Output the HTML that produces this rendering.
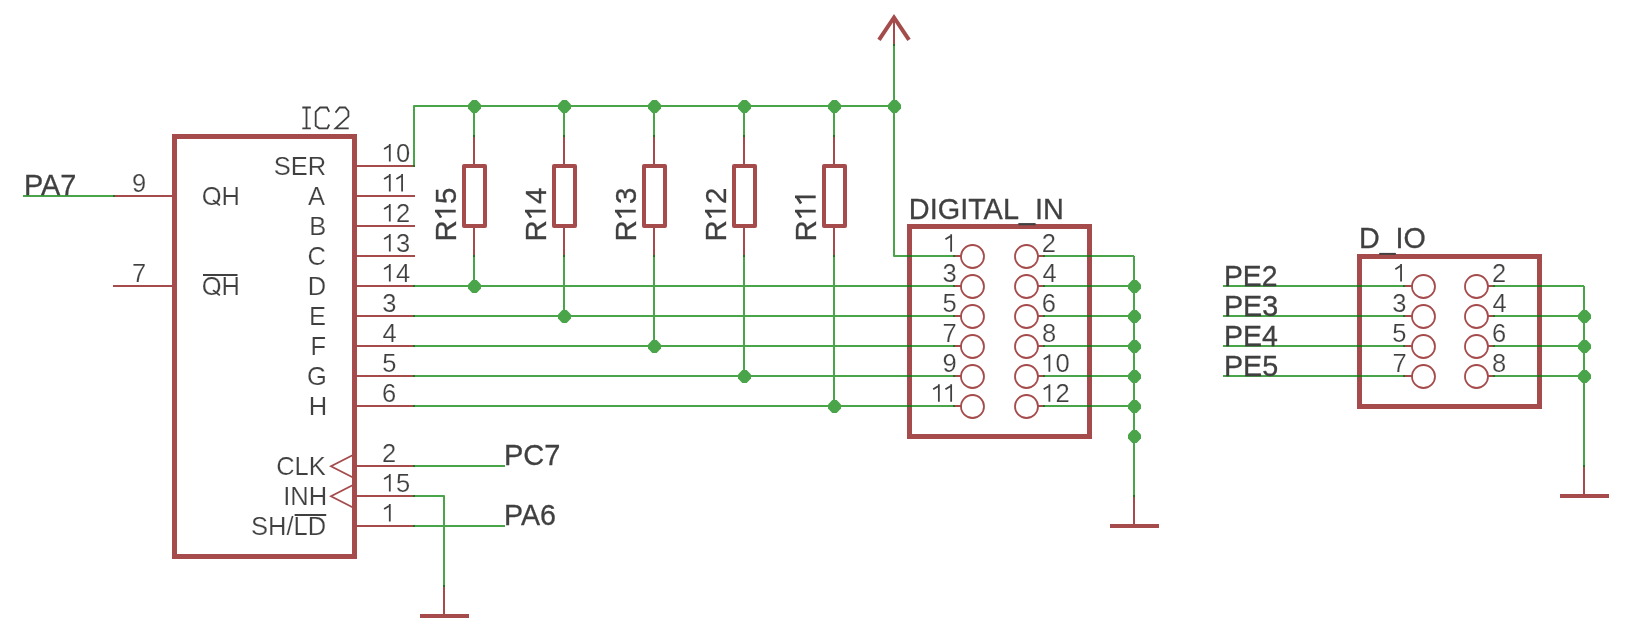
<!DOCTYPE html>
<html><head><meta charset="utf-8"><style>
html,body{margin:0;padding:0;background:#fff;}
svg{display:block;}
svg{will-change:transform;}
text{font-family:"Liberation Sans",sans-serif;fill:#404040;}
</style></head><body>
<svg width="1630" height="637" viewBox="0 0 1630 637">
<rect width="1630" height="637" fill="#fff"/>
<rect x="174.5" y="136.5" width="180" height="420" fill="none" stroke="#a54b4b" stroke-width="5" stroke-linejoin="miter"/>
<line x1="354.5" y1="166" x2="415" y2="166" stroke="#a54b4b" stroke-width="2"/>
<line x1="354.5" y1="196" x2="415" y2="196" stroke="#a54b4b" stroke-width="2"/>
<line x1="354.5" y1="226" x2="415" y2="226" stroke="#a54b4b" stroke-width="2"/>
<line x1="354.5" y1="256" x2="415" y2="256" stroke="#a54b4b" stroke-width="2"/>
<line x1="354.5" y1="286" x2="415" y2="286" stroke="#a54b4b" stroke-width="2"/>
<line x1="354.5" y1="316" x2="415" y2="316" stroke="#a54b4b" stroke-width="2"/>
<line x1="354.5" y1="346" x2="415" y2="346" stroke="#a54b4b" stroke-width="2"/>
<line x1="354.5" y1="376" x2="415" y2="376" stroke="#a54b4b" stroke-width="2"/>
<line x1="354.5" y1="406" x2="415" y2="406" stroke="#a54b4b" stroke-width="2"/>
<line x1="354.5" y1="466" x2="415" y2="466" stroke="#a54b4b" stroke-width="2"/>
<line x1="354.5" y1="496" x2="415" y2="496" stroke="#a54b4b" stroke-width="2"/>
<line x1="354.5" y1="526" x2="415" y2="526" stroke="#a54b4b" stroke-width="2"/>
<line x1="113" y1="196" x2="174.5" y2="196" stroke="#a54b4b" stroke-width="2"/>
<line x1="113" y1="286" x2="174.5" y2="286" stroke="#a54b4b" stroke-width="2"/>
<polyline points="352.5,455.2 331,466.3 352.5,477.3" fill="none" stroke="#a54b4b" stroke-width="1.8" stroke-linejoin="miter"/>
<polyline points="352.5,485.2 331,496.3 352.5,507.3" fill="none" stroke="#a54b4b" stroke-width="1.8" stroke-linejoin="miter"/>
<g transform="translate(273.75,174.5) scale(1.0,1.0)"><text x="0 17.01 34.02" y="0" font-size="25.5" stroke="#fff" stroke-width="0.2" xml:space="preserve">SER</text></g>
<g transform="translate(308.04,204.5) scale(1.0,1.0)"><text x="0" y="0" font-size="25.5" stroke="#fff" stroke-width="0.2" xml:space="preserve">A</text></g>
<g transform="translate(309.34,234.5) scale(1.0,1.0)"><text x="0" y="0" font-size="25.5" stroke="#fff" stroke-width="0.2" xml:space="preserve">B</text></g>
<g transform="translate(307.56,264.5) scale(1.0,1.0)"><text x="0" y="0" font-size="25.5" stroke="#fff" stroke-width="0.2" xml:space="preserve">C</text></g>
<g transform="translate(307.8,294.5) scale(1.0,1.0)"><text x="0" y="0" font-size="25.5" stroke="#fff" stroke-width="0.2" xml:space="preserve">D</text></g>
<g transform="translate(309.09,324.5) scale(1.0,1.0)"><text x="0" y="0" font-size="25.5" stroke="#fff" stroke-width="0.2" xml:space="preserve">E</text></g>
<g transform="translate(310.44,354.5) scale(1.0,1.0)"><text x="0" y="0" font-size="25.5" stroke="#fff" stroke-width="0.2" xml:space="preserve">F</text></g>
<g transform="translate(307.07,384.5) scale(1.0,1.0)"><text x="0" y="0" font-size="25.5" stroke="#fff" stroke-width="0.2" xml:space="preserve">G</text></g>
<g transform="translate(308.66,414.5) scale(1.0,1.0)"><text x="0" y="0" font-size="25.5" stroke="#fff" stroke-width="0.2" xml:space="preserve">H</text></g>
<g transform="translate(276.18,474.5) scale(1.0,1.0)"><text x="0 18.42 32.6" y="0" font-size="25.5" stroke="#fff" stroke-width="0.2" xml:space="preserve">CLK</text></g>
<g transform="translate(283.16,504.5) scale(1.0,1.0)"><text x="0 7.08 25.5" y="0" font-size="25.5" stroke="#fff" stroke-width="0.2" xml:space="preserve">INH</text></g>
<g transform="translate(251.11,534.5) scale(1.0,1.0)"><text x="0 17.01 35.42 42.51 56.69" y="0" font-size="25.5" stroke="#fff" stroke-width="0.2" xml:space="preserve">SH/LD</text></g>
<line x1="294.6" y1="515" x2="326.2" y2="515" stroke="#404040" stroke-width="1.8"/>
<g transform="translate(201.79,204.5) scale(1.0,1.0)"><text x="0 19.83" y="0" font-size="25.5" stroke="#fff" stroke-width="0.2" xml:space="preserve">OH</text><path d="M11.21,-4.36L18.05,0.87" stroke="#404040" stroke-width="1.8" fill="none"/></g>
<g transform="translate(201.79,294.5) scale(1.0,1.0)"><text x="0 19.83" y="0" font-size="25.5" stroke="#fff" stroke-width="0.2" xml:space="preserve">OH</text><path d="M11.21,-4.36L18.05,0.87" stroke="#404040" stroke-width="1.8" fill="none"/></g>
<line x1="203" y1="275" x2="237.5" y2="275" stroke="#404040" stroke-width="1.8"/>
<g transform="translate(381.8,161.5) scale(1.0,1.0)"><text x="0 14.18" y="0" font-size="25.5" stroke="#fff" stroke-width="0.2" xml:space="preserve"> 0</text><path d="M7.99,-17.54V0 M7.22,-15.56L2.3,-12.44" stroke="#404040" stroke-width="1.8" fill="none"/></g>
<g transform="translate(381.8,191.5) scale(1.0,1.0)"><text x="0 12.29" y="0" font-size="25.5" stroke="#fff" stroke-width="0.2" xml:space="preserve">  </text><path d="M7.99,-17.54V0 M7.22,-15.56L2.3,-12.44" stroke="#404040" stroke-width="1.8" fill="none"/><path d="M20.28,-17.54V0 M19.51,-15.56L14.59,-12.44" stroke="#404040" stroke-width="1.8" fill="none"/></g>
<g transform="translate(381.8,221.5) scale(1.0,1.0)"><text x="0 14.18" y="0" font-size="25.5" stroke="#fff" stroke-width="0.2" xml:space="preserve"> 2</text><path d="M7.99,-17.54V0 M7.22,-15.56L2.3,-12.44" stroke="#404040" stroke-width="1.8" fill="none"/></g>
<g transform="translate(381.8,251.5) scale(1.0,1.0)"><text x="0 14.18" y="0" font-size="25.5" stroke="#fff" stroke-width="0.2" xml:space="preserve"> 3</text><path d="M7.99,-17.54V0 M7.22,-15.56L2.3,-12.44" stroke="#404040" stroke-width="1.8" fill="none"/></g>
<g transform="translate(381.8,281.5) scale(1.0,1.0)"><text x="0 14.18" y="0" font-size="25.5" stroke="#fff" stroke-width="0.2" xml:space="preserve"> 4</text><path d="M7.99,-17.54V0 M7.22,-15.56L2.3,-12.44" stroke="#404040" stroke-width="1.8" fill="none"/></g>
<g transform="translate(382.23,311.5) scale(1.0,1.0)"><text x="0" y="0" font-size="25.5" stroke="#fff" stroke-width="0.2" xml:space="preserve">3</text></g>
<g transform="translate(382.61,341.5) scale(1.0,1.0)"><text x="0" y="0" font-size="25.5" stroke="#fff" stroke-width="0.2" xml:space="preserve">4</text></g>
<g transform="translate(382.18,371.5) scale(1.0,1.0)"><text x="0" y="0" font-size="25.5" stroke="#fff" stroke-width="0.2" xml:space="preserve">5</text></g>
<g transform="translate(381.91,401.5) scale(1.0,1.0)"><text x="0" y="0" font-size="25.5" stroke="#fff" stroke-width="0.2" xml:space="preserve">6</text></g>
<g transform="translate(381.92,461.5) scale(1.0,1.0)"><text x="0" y="0" font-size="25.5" stroke="#fff" stroke-width="0.2" xml:space="preserve">2</text></g>
<g transform="translate(381.8,491.5) scale(1.0,1.0)"><text x="0 14.18" y="0" font-size="25.5" stroke="#fff" stroke-width="0.2" xml:space="preserve"> 5</text><path d="M7.99,-17.54V0 M7.22,-15.56L2.3,-12.44" stroke="#404040" stroke-width="1.8" fill="none"/></g>
<g transform="translate(381.8,521.5) scale(1.0,1.0)"><text x="0" y="0" font-size="25.5" stroke="#fff" stroke-width="0.2" xml:space="preserve"> </text><path d="M7.99,-17.54V0 M7.22,-15.56L2.3,-12.44" stroke="#404040" stroke-width="1.8" fill="none"/></g>
<g transform="translate(132.03,191.5) scale(1.0,1.0)"><text x="0" y="0" font-size="25.5" stroke="#fff" stroke-width="0.2" xml:space="preserve">9</text></g>
<g transform="translate(132.1,281.5) scale(1.0,1.0)"><text x="0" y="0" font-size="25.5" stroke="#fff" stroke-width="0.2" xml:space="preserve">7</text></g>
<path d="M302.3,107.5 H310.8 M306.5,107.5 V128.3 M302.3,128.3 H310.8 M329.2,111.9 L327,107.5 H320.1 L315.7,111.9 V125.7 L319.2,128.3 H327.4 L329.2,124.5 M335.5,112.6 L339.6,107.5 H345.3 L348.4,111.3 V116.3 L335.5,128.3 H348.7" fill="none" stroke="#404040" stroke-width="1.8"/>
<line x1="23" y1="196" x2="115" y2="196" stroke="#4aa44a" stroke-width="2"/>
<g transform="translate(23.93,195.2) scale(0.9785363168036494,1.02)"><text x="0 17.49 37.16" y="0" font-size="29.5" stroke="#404040" stroke-width="0.3" xml:space="preserve">PA7</text></g>
<polyline points="414,167 414,106 894,106" fill="none" stroke="#4aa44a" stroke-width="2" stroke-linejoin="round"/>
<line x1="413" y1="286" x2="955" y2="286" stroke="#4aa44a" stroke-width="2"/>
<line x1="413" y1="316" x2="955" y2="316" stroke="#4aa44a" stroke-width="2"/>
<line x1="413" y1="346" x2="955" y2="346" stroke="#4aa44a" stroke-width="2"/>
<line x1="413" y1="376" x2="955" y2="376" stroke="#4aa44a" stroke-width="2"/>
<line x1="413" y1="406" x2="955" y2="406" stroke="#4aa44a" stroke-width="2"/>
<line x1="413" y1="466" x2="505" y2="466" stroke="#4aa44a" stroke-width="2"/>
<line x1="413" y1="526" x2="505" y2="526" stroke="#4aa44a" stroke-width="2"/>
<g transform="translate(503.92,465.3) scale(0.9834872436286616,1.02)"><text x="0 19.68 40.98" y="0" font-size="29.5" stroke="#404040" stroke-width="0.3" xml:space="preserve">PC7</text></g>
<g transform="translate(503.95,525.3) scale(0.9708490247258801,1.02)"><text x="0 17.49 37.16" y="0" font-size="29.5" stroke="#404040" stroke-width="0.3" xml:space="preserve">PA6</text></g>
<polyline points="413,496 444,496 444,587" fill="none" stroke="#4aa44a" stroke-width="2" stroke-linejoin="round"/>
<line x1="444" y1="585" x2="444" y2="614" stroke="#a54b4b" stroke-width="2"/>
<line x1="420" y1="616" x2="469" y2="616" stroke="#a54b4b" stroke-width="4"/>
<line x1="474" y1="106" x2="474" y2="137" stroke="#4aa44a" stroke-width="2"/>
<line x1="474" y1="135" x2="474" y2="166" stroke="#a54b4b" stroke-width="2"/>
<rect x="464" y="166" width="21" height="60" fill="none" stroke="#a54b4b" stroke-width="4" stroke-linejoin="round"/>
<line x1="474" y1="226" x2="474" y2="257" stroke="#a54b4b" stroke-width="2"/>
<line x1="474" y1="255" x2="474" y2="286" stroke="#4aa44a" stroke-width="2"/>
<g transform="translate(455.7,241.62) rotate(-90) scale(1.0,1.02)"><text x="0 21.3 37.71" y="0" font-size="29.5" stroke="#404040" stroke-width="0.3" xml:space="preserve">R 5</text><path d="M30.55,-20.3V0 M29.66,-18.01L23.97,-14.39" stroke="#404040" stroke-width="2.7" fill="none"/></g>
<line x1="564" y1="106" x2="564" y2="137" stroke="#4aa44a" stroke-width="2"/>
<line x1="564" y1="135" x2="564" y2="166" stroke="#a54b4b" stroke-width="2"/>
<rect x="554" y="166" width="21" height="60" fill="none" stroke="#a54b4b" stroke-width="4" stroke-linejoin="round"/>
<line x1="564" y1="226" x2="564" y2="257" stroke="#a54b4b" stroke-width="2"/>
<line x1="564" y1="255" x2="564" y2="316" stroke="#4aa44a" stroke-width="2"/>
<g transform="translate(545.7,241.62) rotate(-90) scale(1.0,1.02)"><text x="0 21.3 37.71" y="0" font-size="29.5" stroke="#404040" stroke-width="0.3" xml:space="preserve">R 4</text><path d="M30.55,-20.3V0 M29.66,-18.01L23.97,-14.39" stroke="#404040" stroke-width="2.7" fill="none"/></g>
<line x1="654" y1="106" x2="654" y2="137" stroke="#4aa44a" stroke-width="2"/>
<line x1="654" y1="135" x2="654" y2="166" stroke="#a54b4b" stroke-width="2"/>
<rect x="644" y="166" width="21" height="60" fill="none" stroke="#a54b4b" stroke-width="4" stroke-linejoin="round"/>
<line x1="654" y1="226" x2="654" y2="257" stroke="#a54b4b" stroke-width="2"/>
<line x1="654" y1="255" x2="654" y2="346" stroke="#4aa44a" stroke-width="2"/>
<g transform="translate(635.7,241.62) rotate(-90) scale(1.0,1.02)"><text x="0 21.3 37.71" y="0" font-size="29.5" stroke="#404040" stroke-width="0.3" xml:space="preserve">R 3</text><path d="M30.55,-20.3V0 M29.66,-18.01L23.97,-14.39" stroke="#404040" stroke-width="2.7" fill="none"/></g>
<line x1="744" y1="106" x2="744" y2="137" stroke="#4aa44a" stroke-width="2"/>
<line x1="744" y1="135" x2="744" y2="166" stroke="#a54b4b" stroke-width="2"/>
<rect x="734" y="166" width="21" height="60" fill="none" stroke="#a54b4b" stroke-width="4" stroke-linejoin="round"/>
<line x1="744" y1="226" x2="744" y2="257" stroke="#a54b4b" stroke-width="2"/>
<line x1="744" y1="255" x2="744" y2="376" stroke="#4aa44a" stroke-width="2"/>
<g transform="translate(725.7,241.62) rotate(-90) scale(1.0,1.02)"><text x="0 21.3 37.71" y="0" font-size="29.5" stroke="#404040" stroke-width="0.3" xml:space="preserve">R 2</text><path d="M30.55,-20.3V0 M29.66,-18.01L23.97,-14.39" stroke="#404040" stroke-width="2.7" fill="none"/></g>
<line x1="834" y1="106" x2="834" y2="137" stroke="#4aa44a" stroke-width="2"/>
<line x1="834" y1="135" x2="834" y2="166" stroke="#a54b4b" stroke-width="2"/>
<rect x="824" y="166" width="21" height="60" fill="none" stroke="#a54b4b" stroke-width="4" stroke-linejoin="round"/>
<line x1="834" y1="226" x2="834" y2="257" stroke="#a54b4b" stroke-width="2"/>
<line x1="834" y1="255" x2="834" y2="406" stroke="#4aa44a" stroke-width="2"/>
<g transform="translate(815.7,241.62) rotate(-90) scale(1.0,1.02)"><text x="0 21.3 35.52" y="0" font-size="29.5" stroke="#404040" stroke-width="0.3" xml:space="preserve">R  </text><path d="M30.55,-20.3V0 M29.66,-18.01L23.97,-14.39" stroke="#404040" stroke-width="2.7" fill="none"/><path d="M44.77,-20.3V0 M43.88,-18.01L38.19,-14.39" stroke="#404040" stroke-width="2.7" fill="none"/></g>
<line x1="894" y1="46" x2="894" y2="17.5" stroke="#a54b4b" stroke-width="2"/>
<polyline points="879,39.8 894,17.5 909,39.8" fill="none" stroke="#a54b4b" stroke-width="4" stroke-linejoin="miter"/>
<polyline points="894,44 894,256 955,256" fill="none" stroke="#4aa44a" stroke-width="2" stroke-linejoin="round"/>
<rect x="909.5" y="226.5" width="180" height="210" fill="none" stroke="#a54b4b" stroke-width="5" stroke-linejoin="miter"/>
<circle cx="972.5" cy="256.5" r="11.5" fill="none" stroke="#a54b4b" stroke-width="1.8"/>
<circle cx="1026.5" cy="256.5" r="11.5" fill="none" stroke="#a54b4b" stroke-width="1.8"/>
<line x1="953" y1="256" x2="961.5" y2="256" stroke="#a54b4b" stroke-width="2"/>
<line x1="1037.5" y1="256" x2="1045" y2="256" stroke="#a54b4b" stroke-width="2"/>
<line x1="1043" y1="256" x2="1134" y2="256" stroke="#4aa44a" stroke-width="2"/>
<g transform="translate(943.16,251.7) scale(1.0,1.0)"><text x="0" y="0" font-size="25.5" stroke="#fff" stroke-width="0.2" xml:space="preserve"> </text><path d="M7.99,-17.54V0 M7.22,-15.56L2.3,-12.44" stroke="#404040" stroke-width="1.8" fill="none"/></g>
<g transform="translate(1041.82,251.7) scale(1.0,1.0)"><text x="0" y="0" font-size="25.5" stroke="#fff" stroke-width="0.2" xml:space="preserve">2</text></g>
<circle cx="972.5" cy="286.5" r="11.5" fill="none" stroke="#a54b4b" stroke-width="1.8"/>
<circle cx="1026.5" cy="286.5" r="11.5" fill="none" stroke="#a54b4b" stroke-width="1.8"/>
<line x1="953" y1="286" x2="961.5" y2="286" stroke="#a54b4b" stroke-width="2"/>
<line x1="1037.5" y1="286" x2="1045" y2="286" stroke="#a54b4b" stroke-width="2"/>
<line x1="1043" y1="286" x2="1134" y2="286" stroke="#4aa44a" stroke-width="2"/>
<g transform="translate(942.44,281.7) scale(1.0,1.0)"><text x="0" y="0" font-size="25.5" stroke="#fff" stroke-width="0.2" xml:space="preserve">3</text></g>
<g transform="translate(1042.51,281.7) scale(1.0,1.0)"><text x="0" y="0" font-size="25.5" stroke="#fff" stroke-width="0.2" xml:space="preserve">4</text></g>
<circle cx="972.5" cy="316.5" r="11.5" fill="none" stroke="#a54b4b" stroke-width="1.8"/>
<circle cx="1026.5" cy="316.5" r="11.5" fill="none" stroke="#a54b4b" stroke-width="1.8"/>
<line x1="953" y1="316" x2="961.5" y2="316" stroke="#a54b4b" stroke-width="2"/>
<line x1="1037.5" y1="316" x2="1045" y2="316" stroke="#a54b4b" stroke-width="2"/>
<line x1="1043" y1="316" x2="1134" y2="316" stroke="#4aa44a" stroke-width="2"/>
<g transform="translate(942.39,311.7) scale(1.0,1.0)"><text x="0" y="0" font-size="25.5" stroke="#fff" stroke-width="0.2" xml:space="preserve">5</text></g>
<g transform="translate(1041.81,311.7) scale(1.0,1.0)"><text x="0" y="0" font-size="25.5" stroke="#fff" stroke-width="0.2" xml:space="preserve">6</text></g>
<circle cx="972.5" cy="346.5" r="11.5" fill="none" stroke="#a54b4b" stroke-width="1.8"/>
<circle cx="1026.5" cy="346.5" r="11.5" fill="none" stroke="#a54b4b" stroke-width="1.8"/>
<line x1="953" y1="346" x2="961.5" y2="346" stroke="#a54b4b" stroke-width="2"/>
<line x1="1037.5" y1="346" x2="1045" y2="346" stroke="#a54b4b" stroke-width="2"/>
<line x1="1043" y1="346" x2="1134" y2="346" stroke="#4aa44a" stroke-width="2"/>
<g transform="translate(942.6,341.7) scale(1.0,1.0)"><text x="0" y="0" font-size="25.5" stroke="#fff" stroke-width="0.2" xml:space="preserve">7</text></g>
<g transform="translate(1041.99,341.7) scale(1.0,1.0)"><text x="0" y="0" font-size="25.5" stroke="#fff" stroke-width="0.2" xml:space="preserve">8</text></g>
<circle cx="972.5" cy="376.5" r="11.5" fill="none" stroke="#a54b4b" stroke-width="1.8"/>
<circle cx="1026.5" cy="376.5" r="11.5" fill="none" stroke="#a54b4b" stroke-width="1.8"/>
<line x1="953" y1="376" x2="961.5" y2="376" stroke="#a54b4b" stroke-width="2"/>
<line x1="1037.5" y1="376" x2="1045" y2="376" stroke="#a54b4b" stroke-width="2"/>
<line x1="1043" y1="376" x2="1134" y2="376" stroke="#4aa44a" stroke-width="2"/>
<g transform="translate(942.53,371.7) scale(1.0,1.0)"><text x="0" y="0" font-size="25.5" stroke="#fff" stroke-width="0.2" xml:space="preserve">9</text></g>
<g transform="translate(1041.4,371.7) scale(1.0,1.0)"><text x="0 14.18" y="0" font-size="25.5" stroke="#fff" stroke-width="0.2" xml:space="preserve"> 0</text><path d="M7.99,-17.54V0 M7.22,-15.56L2.3,-12.44" stroke="#404040" stroke-width="1.8" fill="none"/></g>
<circle cx="972.5" cy="406.5" r="11.5" fill="none" stroke="#a54b4b" stroke-width="1.8"/>
<circle cx="1026.5" cy="406.5" r="11.5" fill="none" stroke="#a54b4b" stroke-width="1.8"/>
<line x1="953" y1="406" x2="961.5" y2="406" stroke="#a54b4b" stroke-width="2"/>
<line x1="1037.5" y1="406" x2="1045" y2="406" stroke="#a54b4b" stroke-width="2"/>
<line x1="1043" y1="406" x2="1134" y2="406" stroke="#4aa44a" stroke-width="2"/>
<g transform="translate(930.87,401.7) scale(1.0,1.0)"><text x="0 12.29" y="0" font-size="25.5" stroke="#fff" stroke-width="0.2" xml:space="preserve">  </text><path d="M7.99,-17.54V0 M7.22,-15.56L2.3,-12.44" stroke="#404040" stroke-width="1.8" fill="none"/><path d="M20.28,-17.54V0 M19.51,-15.56L14.59,-12.44" stroke="#404040" stroke-width="1.8" fill="none"/></g>
<g transform="translate(1041.4,401.7) scale(1.0,1.0)"><text x="0 14.18" y="0" font-size="25.5" stroke="#fff" stroke-width="0.2" xml:space="preserve"> 2</text><path d="M7.99,-17.54V0 M7.22,-15.56L2.3,-12.44" stroke="#404040" stroke-width="1.8" fill="none"/></g>
<g transform="translate(908.83,218.8) scale(0.9782848716180356,1.02)"><text x="0 21.3 29.5 52.45 60.64 76.47 96.15 112.56 128.96 137.16" y="0" font-size="29.5" stroke="#404040" stroke-width="0.3" xml:space="preserve">DIGITAL_IN</text></g>
<line x1="1134" y1="256" x2="1134" y2="497" stroke="#4aa44a" stroke-width="2"/>
<line x1="1134" y1="495" x2="1134" y2="524" stroke="#a54b4b" stroke-width="2"/>
<line x1="1110" y1="526" x2="1159" y2="526" stroke="#a54b4b" stroke-width="4"/>
<rect x="1359.5" y="256.5" width="180" height="150" fill="none" stroke="#a54b4b" stroke-width="5" stroke-linejoin="miter"/>
<circle cx="1423.5" cy="286.5" r="11.5" fill="none" stroke="#a54b4b" stroke-width="1.8"/>
<circle cx="1476.5" cy="286.5" r="11.5" fill="none" stroke="#a54b4b" stroke-width="1.8"/>
<line x1="1403" y1="286" x2="1412.5" y2="286" stroke="#a54b4b" stroke-width="2"/>
<line x1="1487.5" y1="286" x2="1495" y2="286" stroke="#a54b4b" stroke-width="2"/>
<line x1="1223" y1="286" x2="1405" y2="286" stroke="#4aa44a" stroke-width="2"/>
<line x1="1493" y1="286" x2="1584" y2="286" stroke="#4aa44a" stroke-width="2"/>
<g transform="translate(1393.06,281.6) scale(1.0,1.0)"><text x="0" y="0" font-size="25.5" stroke="#fff" stroke-width="0.2" xml:space="preserve"> </text><path d="M7.99,-17.54V0 M7.22,-15.56L2.3,-12.44" stroke="#404040" stroke-width="1.8" fill="none"/></g>
<g transform="translate(1491.92,281.6) scale(1.0,1.0)"><text x="0" y="0" font-size="25.5" stroke="#fff" stroke-width="0.2" xml:space="preserve">2</text></g>
<g transform="translate(1223.98,285.5) scale(0.9603615819209039,1.02)"><text x="0 19.68 39.35" y="0" font-size="29.5" stroke="#404040" stroke-width="0.3" xml:space="preserve">PE2</text></g>
<circle cx="1423.5" cy="316.5" r="11.5" fill="none" stroke="#a54b4b" stroke-width="1.8"/>
<circle cx="1476.5" cy="316.5" r="11.5" fill="none" stroke="#a54b4b" stroke-width="1.8"/>
<line x1="1403" y1="316" x2="1412.5" y2="316" stroke="#a54b4b" stroke-width="2"/>
<line x1="1487.5" y1="316" x2="1495" y2="316" stroke="#a54b4b" stroke-width="2"/>
<line x1="1223" y1="316" x2="1405" y2="316" stroke="#4aa44a" stroke-width="2"/>
<line x1="1493" y1="316" x2="1584" y2="316" stroke="#4aa44a" stroke-width="2"/>
<g transform="translate(1392.34,311.6) scale(1.0,1.0)"><text x="0" y="0" font-size="25.5" stroke="#fff" stroke-width="0.2" xml:space="preserve">3</text></g>
<g transform="translate(1492.61,311.6) scale(1.0,1.0)"><text x="0" y="0" font-size="25.5" stroke="#fff" stroke-width="0.2" xml:space="preserve">4</text></g>
<g transform="translate(1223.94,315.5) scale(0.974199571228192,1.02)"><text x="0 19.68 39.35" y="0" font-size="29.5" stroke="#404040" stroke-width="0.3" xml:space="preserve">PE3</text></g>
<circle cx="1423.5" cy="346.5" r="11.5" fill="none" stroke="#a54b4b" stroke-width="1.8"/>
<circle cx="1476.5" cy="346.5" r="11.5" fill="none" stroke="#a54b4b" stroke-width="1.8"/>
<line x1="1403" y1="346" x2="1412.5" y2="346" stroke="#a54b4b" stroke-width="2"/>
<line x1="1487.5" y1="346" x2="1495" y2="346" stroke="#a54b4b" stroke-width="2"/>
<line x1="1223" y1="346" x2="1405" y2="346" stroke="#4aa44a" stroke-width="2"/>
<line x1="1493" y1="346" x2="1584" y2="346" stroke="#4aa44a" stroke-width="2"/>
<g transform="translate(1392.29,341.6) scale(1.0,1.0)"><text x="0" y="0" font-size="25.5" stroke="#fff" stroke-width="0.2" xml:space="preserve">5</text></g>
<g transform="translate(1491.91,341.6) scale(1.0,1.0)"><text x="0" y="0" font-size="25.5" stroke="#fff" stroke-width="0.2" xml:space="preserve">6</text></g>
<g transform="translate(1223.96,345.5) scale(0.9661770658378968,1.02)"><text x="0 19.68 39.35" y="0" font-size="29.5" stroke="#404040" stroke-width="0.3" xml:space="preserve">PE4</text></g>
<circle cx="1423.5" cy="376.5" r="11.5" fill="none" stroke="#a54b4b" stroke-width="1.8"/>
<circle cx="1476.5" cy="376.5" r="11.5" fill="none" stroke="#a54b4b" stroke-width="1.8"/>
<line x1="1403" y1="376" x2="1412.5" y2="376" stroke="#a54b4b" stroke-width="2"/>
<line x1="1487.5" y1="376" x2="1495" y2="376" stroke="#a54b4b" stroke-width="2"/>
<line x1="1223" y1="376" x2="1405" y2="376" stroke="#4aa44a" stroke-width="2"/>
<line x1="1493" y1="376" x2="1584" y2="376" stroke="#4aa44a" stroke-width="2"/>
<g transform="translate(1392.5,371.6) scale(1.0,1.0)"><text x="0" y="0" font-size="25.5" stroke="#fff" stroke-width="0.2" xml:space="preserve">7</text></g>
<g transform="translate(1492.09,371.6) scale(1.0,1.0)"><text x="0" y="0" font-size="25.5" stroke="#fff" stroke-width="0.2" xml:space="preserve">8</text></g>
<g transform="translate(1223.95,375.5) scale(0.973122214776737,1.02)"><text x="0 19.68 39.35" y="0" font-size="29.5" stroke="#404040" stroke-width="0.3" xml:space="preserve">PE5</text></g>
<g transform="translate(1358.95,248.2) scale(0.9719937219798293,1.02)"><text x="0 21.3 37.71 45.91" y="0" font-size="29.5" stroke="#404040" stroke-width="0.3" xml:space="preserve">D IO</text></g>
<rect x="1379.2" y="252.9" width="16.7" height="1.9" fill="#404040"/>
<line x1="1584" y1="286" x2="1584" y2="467" stroke="#4aa44a" stroke-width="2"/>
<line x1="1584" y1="465" x2="1584" y2="494" stroke="#a54b4b" stroke-width="2"/>
<line x1="1560" y1="496" x2="1609" y2="496" stroke="#a54b4b" stroke-width="4"/>
<rect x="413" y="165" width="2" height="2" fill="#237323"/>
<rect x="413" y="285" width="2" height="2" fill="#237323"/>
<rect x="413" y="315" width="2" height="2" fill="#237323"/>
<rect x="413" y="345" width="2" height="2" fill="#237323"/>
<rect x="413" y="375" width="2" height="2" fill="#237323"/>
<rect x="413" y="405" width="2" height="2" fill="#237323"/>
<rect x="413" y="465" width="2" height="2" fill="#237323"/>
<rect x="413" y="495" width="2" height="2" fill="#237323"/>
<rect x="413" y="525" width="2" height="2" fill="#237323"/>
<rect x="113" y="195" width="2" height="2" fill="#237323"/>
<rect x="443" y="585" width="2" height="2" fill="#237323"/>
<rect x="473" y="135" width="2" height="2" fill="#237323"/>
<rect x="473" y="255" width="2" height="2" fill="#237323"/>
<rect x="563" y="135" width="2" height="2" fill="#237323"/>
<rect x="563" y="255" width="2" height="2" fill="#237323"/>
<rect x="653" y="135" width="2" height="2" fill="#237323"/>
<rect x="653" y="255" width="2" height="2" fill="#237323"/>
<rect x="743" y="135" width="2" height="2" fill="#237323"/>
<rect x="743" y="255" width="2" height="2" fill="#237323"/>
<rect x="833" y="135" width="2" height="2" fill="#237323"/>
<rect x="833" y="255" width="2" height="2" fill="#237323"/>
<rect x="893" y="44" width="2" height="2" fill="#237323"/>
<rect x="953" y="255" width="2" height="2" fill="#237323"/>
<rect x="1043" y="255" width="2" height="2" fill="#237323"/>
<rect x="907" y="255" width="5" height="2" fill="#237323"/>
<rect x="1087" y="255" width="5" height="2" fill="#237323"/>
<rect x="953" y="285" width="2" height="2" fill="#237323"/>
<rect x="1043" y="285" width="2" height="2" fill="#237323"/>
<rect x="907" y="285" width="5" height="2" fill="#237323"/>
<rect x="1087" y="285" width="5" height="2" fill="#237323"/>
<rect x="953" y="315" width="2" height="2" fill="#237323"/>
<rect x="1043" y="315" width="2" height="2" fill="#237323"/>
<rect x="907" y="315" width="5" height="2" fill="#237323"/>
<rect x="1087" y="315" width="5" height="2" fill="#237323"/>
<rect x="953" y="345" width="2" height="2" fill="#237323"/>
<rect x="1043" y="345" width="2" height="2" fill="#237323"/>
<rect x="907" y="345" width="5" height="2" fill="#237323"/>
<rect x="1087" y="345" width="5" height="2" fill="#237323"/>
<rect x="953" y="375" width="2" height="2" fill="#237323"/>
<rect x="1043" y="375" width="2" height="2" fill="#237323"/>
<rect x="907" y="375" width="5" height="2" fill="#237323"/>
<rect x="1087" y="375" width="5" height="2" fill="#237323"/>
<rect x="953" y="405" width="2" height="2" fill="#237323"/>
<rect x="1043" y="405" width="2" height="2" fill="#237323"/>
<rect x="907" y="405" width="5" height="2" fill="#237323"/>
<rect x="1087" y="405" width="5" height="2" fill="#237323"/>
<rect x="1133" y="495" width="2" height="2" fill="#237323"/>
<rect x="1403" y="285" width="2" height="2" fill="#237323"/>
<rect x="1493" y="285" width="2" height="2" fill="#237323"/>
<rect x="1357" y="285" width="5" height="2" fill="#237323"/>
<rect x="1537" y="285" width="5" height="2" fill="#237323"/>
<rect x="1403" y="315" width="2" height="2" fill="#237323"/>
<rect x="1493" y="315" width="2" height="2" fill="#237323"/>
<rect x="1357" y="315" width="5" height="2" fill="#237323"/>
<rect x="1537" y="315" width="5" height="2" fill="#237323"/>
<rect x="1403" y="345" width="2" height="2" fill="#237323"/>
<rect x="1493" y="345" width="2" height="2" fill="#237323"/>
<rect x="1357" y="345" width="5" height="2" fill="#237323"/>
<rect x="1537" y="345" width="5" height="2" fill="#237323"/>
<rect x="1403" y="375" width="2" height="2" fill="#237323"/>
<rect x="1493" y="375" width="2" height="2" fill="#237323"/>
<rect x="1357" y="375" width="5" height="2" fill="#237323"/>
<rect x="1537" y="375" width="5" height="2" fill="#237323"/>
<rect x="1583" y="465" width="2" height="2" fill="#237323"/>
<polygon points="472.3,100 476.7,100 481,104.6 481,108.4 476.7,113 472.3,113 468,108.4 468,104.6" fill="#4aa44a"/>
<polygon points="562.3,100 566.7,100 571,104.6 571,108.4 566.7,113 562.3,113 558,108.4 558,104.6" fill="#4aa44a"/>
<polygon points="652.3,100 656.7,100 661,104.6 661,108.4 656.7,113 652.3,113 648,108.4 648,104.6" fill="#4aa44a"/>
<polygon points="742.3,100 746.7,100 751,104.6 751,108.4 746.7,113 742.3,113 738,108.4 738,104.6" fill="#4aa44a"/>
<polygon points="832.3,100 836.7,100 841,104.6 841,108.4 836.7,113 832.3,113 828,108.4 828,104.6" fill="#4aa44a"/>
<polygon points="892.3,100 896.7,100 901,104.6 901,108.4 896.7,113 892.3,113 888,108.4 888,104.6" fill="#4aa44a"/>
<polygon points="472.3,280 476.7,280 481,284.6 481,288.4 476.7,293 472.3,293 468,288.4 468,284.6" fill="#4aa44a"/>
<polygon points="562.3,310 566.7,310 571,314.6 571,318.4 566.7,323 562.3,323 558,318.4 558,314.6" fill="#4aa44a"/>
<polygon points="652.3,340 656.7,340 661,344.6 661,348.4 656.7,353 652.3,353 648,348.4 648,344.6" fill="#4aa44a"/>
<polygon points="742.3,370 746.7,370 751,374.6 751,378.4 746.7,383 742.3,383 738,378.4 738,374.6" fill="#4aa44a"/>
<polygon points="832.3,400 836.7,400 841,404.6 841,408.4 836.7,413 832.3,413 828,408.4 828,404.6" fill="#4aa44a"/>
<polygon points="1132.3,280 1136.7,280 1141,284.6 1141,288.4 1136.7,293 1132.3,293 1128,288.4 1128,284.6" fill="#4aa44a"/>
<polygon points="1132.3,310 1136.7,310 1141,314.6 1141,318.4 1136.7,323 1132.3,323 1128,318.4 1128,314.6" fill="#4aa44a"/>
<polygon points="1132.3,340 1136.7,340 1141,344.6 1141,348.4 1136.7,353 1132.3,353 1128,348.4 1128,344.6" fill="#4aa44a"/>
<polygon points="1132.3,370 1136.7,370 1141,374.6 1141,378.4 1136.7,383 1132.3,383 1128,378.4 1128,374.6" fill="#4aa44a"/>
<polygon points="1132.3,400 1136.7,400 1141,404.6 1141,408.4 1136.7,413 1132.3,413 1128,408.4 1128,404.6" fill="#4aa44a"/>
<polygon points="1132.3,430 1136.7,430 1141,434.6 1141,438.4 1136.7,443 1132.3,443 1128,438.4 1128,434.6" fill="#4aa44a"/>
<polygon points="1582.3,310 1586.7,310 1591,314.6 1591,318.4 1586.7,323 1582.3,323 1578,318.4 1578,314.6" fill="#4aa44a"/>
<polygon points="1582.3,340 1586.7,340 1591,344.6 1591,348.4 1586.7,353 1582.3,353 1578,348.4 1578,344.6" fill="#4aa44a"/>
<polygon points="1582.3,370 1586.7,370 1591,374.6 1591,378.4 1586.7,383 1582.3,383 1578,378.4 1578,374.6" fill="#4aa44a"/>
</svg></body></html>
